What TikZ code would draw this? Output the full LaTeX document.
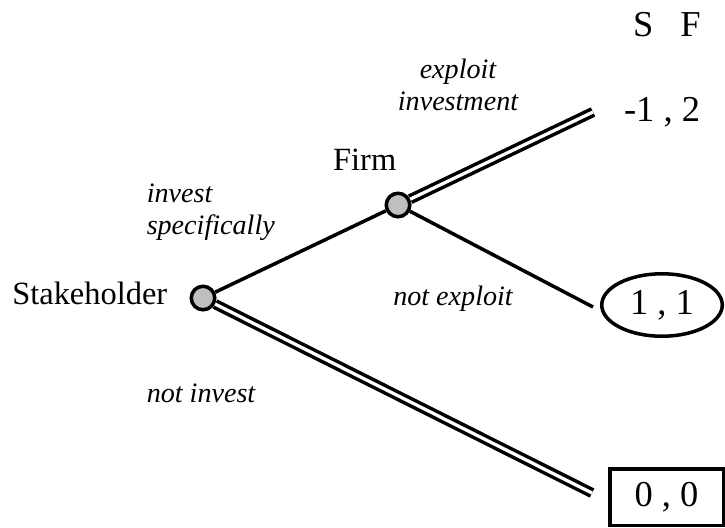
\documentclass[tikz,border=0pt]{standalone}
\usepackage{fontspec}
\setmainfont{Liberation Serif}[ItalicFont={Liberation Serif Italic}]
\usetikzlibrary{positioning,shapes.geometric}
\tikzset{
	every path/.style = {line width=1.3pt},
	decision/.style = {draw, circle, fill=black!25, minimum size=8.7pt, inner sep=0pt},
	player/.style = {inner sep=0pt, font=\fontsize{12}{14}\selectfont},
	move/.style = {inner sep=0pt, align=center, font=\fontsize{10.4}{12}\selectfont\itshape},
	payoff/.style = {inner sep=0pt, font=\fontsize{13.5}{15}\selectfont},
	chosen/.style = {double, double distance=1.2pt}
}

\begin{document}
\begin{tikzpicture}[x=0.37pt, y=-0.37pt]
	\useasboundingbox (0,0) rectangle (725,527);
	\node[decision] (stake) at (203,298) {};
	\node[decision] (firm) at (398,205) {};
	\node[player, anchor=base east] (stakename) at (169,304) {Stakeholder};
	\node[player, anchor=base east] (firmname) at (398,170) {Firm};
	\node[payoff, anchor=base] (players) at (667,36) {S\hspace{10pt}F};
	\node[payoff, anchor=base] (exploitpay) at (662,121) {-1 , 2};
	\node[payoff, draw, ellipse, minimum width=44.6pt, minimum height=23.1pt] (notexploitpay) at (662,305) {1 , 1};
	\node[payoff, draw, rectangle, minimum width=42pt, minimum height=20.9pt] (notinvestpay) at (666.5,497) {0 , 0};
	\coordinate (exploitend) at (593,112);
	\coordinate (notexploitend) at (593,307);
	\coordinate (notinvestend) at (592,493);
	\draw (stake) -- (firm);
	\draw[chosen] (stake) -- (notinvestend);
	\draw[chosen] (firm) -- (exploitend);
	\draw (firm) -- (notexploitend);
	\node[move, align=left, anchor=west] (investlabel) at (145,212) {invest\\specifically};
	\node[move] (exploitlabel) at (458,85) {exploit\\investment};
	\node[move, anchor=base] (notexploitlabel) at (453,305) {not exploit};
	\node[move, anchor=base west] (notinvestlabel) at (145,402) {not invest};
\end{tikzpicture}
\end{document}
